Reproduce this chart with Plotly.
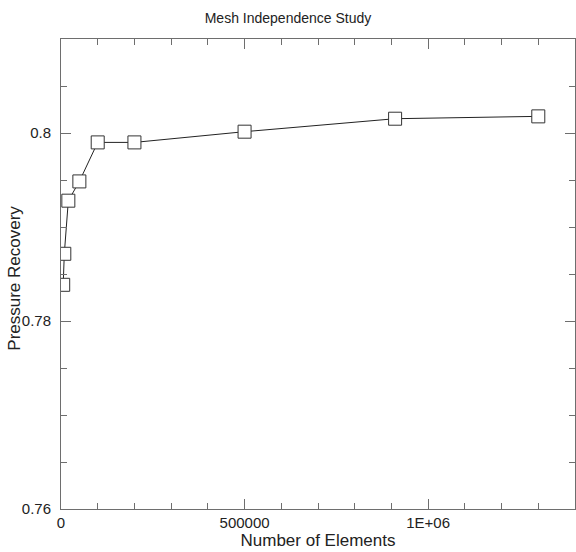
import plotly.graph_objects as go

elements = [6000, 9000, 20000, 50000, 100000, 200000, 500000, 910000, 1300000]
pressure_recovery = [0.78385, 0.78715, 0.7928, 0.79485, 0.7990, 0.7990, 0.80014, 0.80152, 0.80177]

x_tickvals = [0, 500000, 1000000]
x_ticktext = ["0", "500000", "1E+06"]
y_tickvals = [0.76, 0.78, 0.80]
y_ticktext = ["0.76", "0.78", "0.8"]

font_family = "Liberation Sans, Arial, sans-serif"
frame = "#6e6e6e"

fig = go.Figure()
fig.add_trace(go.Scatter(
    x=elements, y=pressure_recovery, mode="lines+markers",
    line=dict(color="#222222", width=1),
    marker=dict(symbol="square", size=13, color="white",
                line=dict(color="#333333", width=1)),
    showlegend=False,
))

axis_common = dict(
    showline=True, linecolor=frame, linewidth=1, mirror="allticks",
    ticks="inside", ticklen=10, tickwidth=1, tickcolor=frame,
    showgrid=False, zeroline=False,
    tickfont=dict(family=font_family, size=15, color="#222222"),
)

fig.update_layout(
    width=576, height=552,
    margin=dict(l=61, r=1, t=39, b=43),
    paper_bgcolor="white", plot_bgcolor="white",
    title=dict(text="Mesh Independence Study", x=0.5, xanchor="center",
               y=1 - 18 / 552, yanchor="middle",
               font=dict(family=font_family, size=14, color="#222222")),
    xaxis=dict(
        range=[0, 1400000], tickmode="array", tickvals=x_tickvals, ticktext=x_ticktext,
        minor=dict(dtick=100000, tick0=0, ticks="inside", ticklen=6, tickcolor=frame, showgrid=False),
        title=dict(text="Number of Elements", standoff=0,
                   font=dict(family=font_family, size=17, color="#222222")),
        **axis_common,
    ),
    yaxis=dict(
        range=[0.76, 0.81], tickmode="array", tickvals=y_tickvals, ticktext=y_ticktext,
        ticklabelstandoff=6,
        minor=dict(dtick=0.005, tick0=0.76, ticks="inside", ticklen=6, tickcolor=frame, showgrid=False),
        **axis_common,
    ),
    annotations=[dict(
        text="Pressure Recovery", textangle=-90, showarrow=False,
        xref="paper", yref="paper", x=(15 - 61) / 514, y=0.49,
        xanchor="center", yanchor="middle",
        font=dict(family=font_family, size=17, color="#222222"),
    )],
)

fig.write_html("out.html")
